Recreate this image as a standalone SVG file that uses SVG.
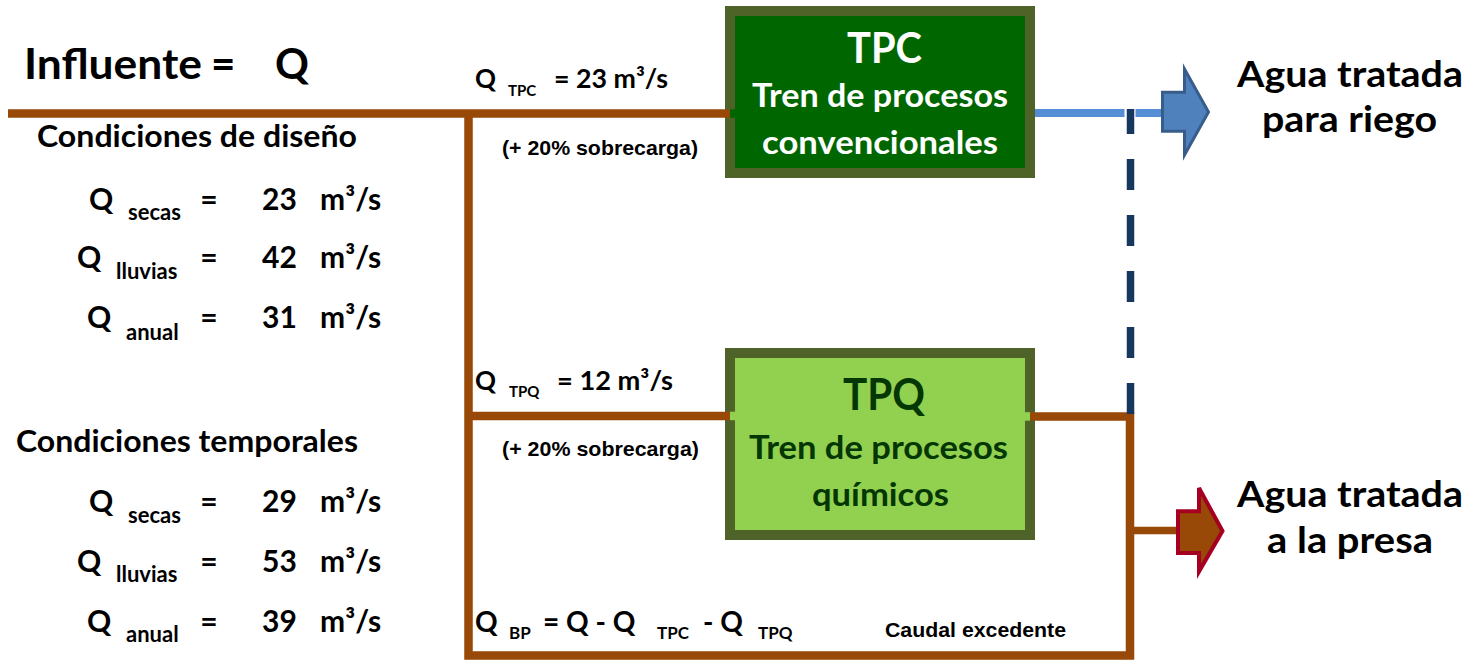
<svg xmlns="http://www.w3.org/2000/svg" width="1480" height="664" viewBox="0 0 1480 664">
<style>
.c{font-family:Lato,"Liberation Sans",sans-serif;font-weight:700;fill:#000}
.a{font-family:"Liberation Sans",Arial,sans-serif;font-weight:700;fill:#000}
.br{fill:none;stroke:#984807;stroke-width:8.5;stroke-linecap:butt;stroke-linejoin:miter}
.box{stroke:#4F6228;stroke-width:10}
.mid{text-anchor:middle}
</style>
<rect width="1480" height="664" fill="#fff"/>

<g id="connectors">
  <path class="br" d="M8,113.5 H730"/>
  <path class="br" d="M468.5,113 V655.5 H1130 V416.5 H1030"/>
  <path class="br" d="M468.5,416 H730"/>
  <path class="br" d="M1134,530.5 H1177" style="stroke-width:7.5"/>
  <path d="M1035,113 H1163" fill="none" stroke="#558ED5" stroke-width="8"/>
  <rect x="1124.5" y="108" width="11" height="10" fill="#fff"/>
  <path d="M1130.5,414 V109" fill="none" stroke="#17375E" stroke-width="7.5" stroke-dasharray="31 25"/>
</g>

<g id="node-tpc">
  <rect class="box" x="730" y="11" width="300" height="162" fill="#006600"/>
  <path class="br" d="M725,113.5 H730"/>
  <rect x="730" y="109.3" width="5" height="8.5" fill="#006600"/>
  <text class="c" x="847" y="63" font-size="42" textLength="75" lengthAdjust="spacingAndGlyphs" style="fill:#fff">TPC</text>
  <text class="c" x="752" y="107" font-size="33" textLength="256" lengthAdjust="spacingAndGlyphs" style="fill:#fff">Tren de procesos</text>
  <text class="c" x="762" y="154" font-size="33" textLength="236" lengthAdjust="spacingAndGlyphs" style="fill:#fff">convencionales</text>
</g>

<g id="node-tpq">
  <rect class="box" x="730" y="353" width="300" height="182" fill="#92D050"/>
  <path class="br" d="M725,416 H730"/>
  <rect x="730" y="411.7" width="5" height="8.5" fill="#92D050"/>
  <path class="br" d="M1030,416.5 H1035"/>
  <rect x="1025" y="412.2" width="5" height="8.5" fill="#92D050"/>
  <text class="c" x="843" y="410" font-size="44" textLength="82" lengthAdjust="spacingAndGlyphs" style="fill:#043704">TPQ</text>
  <text class="c" x="749" y="459" font-size="33" textLength="259" lengthAdjust="spacingAndGlyphs" style="fill:#043704">Tren de procesos</text>
  <text class="c" x="812" y="506" font-size="33" textLength="137" lengthAdjust="spacingAndGlyphs" style="fill:#043704">químicos</text>
</g>

<g id="arrow-riego">
  <path d="M1162.5,92.2 H1184.5 V69 L1208.5,112 L1184.5,155 V131.2 H1162.5 Z" fill="#4F81BD" stroke="#385D8A" stroke-width="3"/>
  <text class="c" x="1237" y="87" font-size="37" textLength="226" lengthAdjust="spacingAndGlyphs">Agua tratada</text>
  <text class="c" x="1262" y="132" font-size="37" textLength="175" lengthAdjust="spacingAndGlyphs">para riego</text>
</g>

<g id="arrow-presa">
  <path d="M1178,511.3 H1199 V488 L1222.5,531 L1199,571.5 V553 H1178 Z" fill="#984807" stroke="#A50021" stroke-width="4"/>
  <text class="c" x="1237" y="507" font-size="37" textLength="226" lengthAdjust="spacingAndGlyphs">Agua tratada</text>
  <text class="c" x="1267" y="553" font-size="37" textLength="166" lengthAdjust="spacingAndGlyphs">a la presa</text>
</g>

<g id="influent">
  <text class="c" x="24" y="79" font-size="42" textLength="178" lengthAdjust="spacingAndGlyphs">Influente</text>
  <text class="c" x="211" y="79" font-size="42">=</text>
  <text class="c" x="275" y="79" font-size="42">Q</text>
</g>

<g id="design-conditions">
  <text class="c" x="37" y="147" font-size="30" textLength="320" lengthAdjust="spacingAndGlyphs">Condiciones de diseño</text>
  <g font-size="30">
    <text class="c" x="89" y="210">Q</text><text class="c" x="128" y="220" font-size="22">secas</text>
    <text class="c mid" x="209" y="210">=</text><text class="c" x="262" y="210">23</text><text class="c" x="320" y="210">m³/s</text>
    <text class="c" x="77" y="268">Q</text><text class="c" x="116" y="279" font-size="22">lluvias</text>
    <text class="c mid" x="209" y="268">=</text><text class="c" x="262" y="268">42</text><text class="c" x="320" y="268">m³/s</text>
    <text class="c" x="87" y="328">Q</text><text class="c" x="126" y="340" font-size="22">anual</text>
    <text class="c mid" x="209" y="328">=</text><text class="c" x="262" y="328">31</text><text class="c" x="320" y="328">m³/s</text>
  </g>
</g>

<g id="temporal-conditions">
  <text class="c" x="16" y="452" font-size="30" textLength="342" lengthAdjust="spacingAndGlyphs">Condiciones temporales</text>
  <g font-size="30">
    <text class="c" x="89" y="512">Q</text><text class="c" x="128" y="523" font-size="22">secas</text>
    <text class="c mid" x="209" y="512">=</text><text class="c" x="262" y="512">29</text><text class="c" x="320" y="512">m³/s</text>
    <text class="c" x="77" y="572">Q</text><text class="c" x="116" y="582" font-size="22">lluvias</text>
    <text class="c mid" x="209" y="572">=</text><text class="c" x="262" y="572">53</text><text class="c" x="320" y="572">m³/s</text>
    <text class="c" x="87" y="632">Q</text><text class="c" x="126" y="642" font-size="22">anual</text>
    <text class="c mid" x="209" y="632">=</text><text class="c" x="262" y="632">39</text><text class="c" x="320" y="632">m³/s</text>
  </g>
</g>

<g id="label-tpc">
  <text class="c" x="475" y="88" font-size="26">Q</text>
  <text class="c" x="508" y="95.5" font-size="15">TPC</text>
  <text class="c" x="554" y="88" font-size="26" textLength="114" lengthAdjust="spacingAndGlyphs">= 23 m³/s</text>
  <text class="a" x="502" y="155" font-size="21" textLength="196" lengthAdjust="spacingAndGlyphs">(+ 20% sobrecarga)</text>
</g>

<g id="label-tpq">
  <text class="c" x="475" y="390" font-size="26">Q</text>
  <text class="c" x="509" y="396.5" font-size="15">TPQ</text>
  <text class="c" x="557" y="390" font-size="26" textLength="116" lengthAdjust="spacingAndGlyphs">= 12 m³/s</text>
  <text class="a" x="502" y="456" font-size="21" textLength="197" lengthAdjust="spacingAndGlyphs">(+ 20% sobrecarga)</text>
</g>

<g id="label-bp">
  <text class="c" x="475" y="631.5" font-size="28">Q</text>
  <text class="c" x="509" y="639" font-size="17">BP</text>
  <text class="c" x="543" y="631.5" font-size="28">= Q - Q</text>
  <text class="c" x="657" y="639" font-size="17">TPC</text>
  <text class="c" x="703" y="631.5" font-size="28">- Q</text>
  <text class="c" x="758" y="639" font-size="17">TPQ</text>
  <text class="a" x="885" y="637" font-size="20" textLength="181" lengthAdjust="spacingAndGlyphs">Caudal excedente</text>
</g>
</svg>
